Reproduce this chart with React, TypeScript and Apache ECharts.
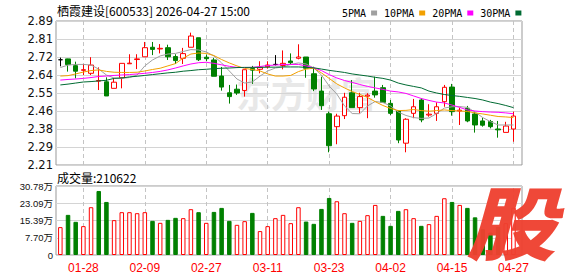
import React, { useEffect, useRef } from 'react';
import * as echarts from 'echarts';

const dates = ['01-23','01-26','01-27','01-28','01-29','01-30','02-02','02-03','02-04','02-05','02-06','02-09','02-10','02-11','02-12','02-13','02-24','02-25','02-26','02-27','03-02','03-03','03-04','03-05','03-06','03-09','03-10','03-11','03-12','03-13','03-16','03-17','03-18','03-19','03-20','03-23','03-24','03-25','03-26','03-27','03-30','03-31','04-01','04-02','04-03','04-07','04-08','04-09','04-10','04-13','04-14','04-15','04-16','04-17','04-20','04-21','04-22','04-23','04-24','04-27'];

const labelDates = ['01-28','02-09','02-27','03-11','03-23','04-02','04-15','04-27'];

const opens = [2.707,2.711,2.679,2.657,2.643,2.606,2.603,2.572,2.622,2.688,2.708,2.721,2.766,2.758,2.764,2.722,2.714,2.766,2.811,2.719,2.706,2.630,2.551,2.568,2.562,2.666,2.662,2.674,2.685,2.680,2.701,2.714,2.720,2.641,2.559,2.452,2.391,2.443,2.551,2.481,2.535,2.559,2.575,2.501,2.466,2.313,2.454,2.517,2.446,2.454,2.509,2.578,2.465,2.478,2.451,2.418,2.415,2.380,2.364,2.380];
const closes = [2.707,2.684,2.653,2.660,2.682,2.609,2.536,2.601,2.690,2.691,2.711,2.764,2.756,2.761,2.721,2.703,2.736,2.819,2.707,2.712,2.629,2.578,2.533,2.550,2.660,2.658,2.671,2.682,2.685,2.690,2.693,2.720,2.667,2.569,2.490,2.301,2.441,2.530,2.481,2.533,2.540,2.541,2.506,2.454,2.328,2.426,2.485,2.423,2.450,2.485,2.577,2.462,2.469,2.418,2.399,2.398,2.391,2.376,2.394,2.441];
const lows = [2.676,2.651,2.619,2.635,2.635,2.564,2.536,2.572,2.572,2.688,2.663,2.721,2.729,2.737,2.706,2.687,2.687,2.766,2.701,2.700,2.629,2.561,2.500,2.541,2.533,2.593,2.643,2.665,2.680,2.662,2.682,2.709,2.622,2.559,2.470,2.270,2.308,2.427,2.481,2.454,2.431,2.528,2.506,2.446,2.313,2.270,2.431,2.412,2.438,2.418,2.485,2.443,2.399,2.412,2.363,2.391,2.383,2.339,2.364,2.320];
const highs = [2.717,2.712,2.698,2.687,2.719,2.671,2.624,2.619,2.690,2.733,2.733,2.791,2.791,2.781,2.778,2.733,2.763,2.835,2.811,2.732,2.716,2.673,2.588,2.590,2.660,2.678,2.700,2.700,2.729,2.751,2.737,2.780,2.720,2.674,2.627,2.462,2.452,2.551,2.611,2.551,2.549,2.627,2.588,2.517,2.466,2.431,2.522,2.525,2.497,2.506,2.588,2.593,2.481,2.489,2.462,2.433,2.423,2.418,2.414,2.462];

const ma5 = [2.670,2.682,2.685,2.685,2.682,2.663,2.635,2.621,2.619,2.623,2.635,2.678,2.706,2.725,2.734,2.737,2.746,2.755,2.753,2.744,2.725,2.692,2.654,2.616,2.597,2.602,2.630,2.654,2.668,2.673,2.685,2.692,2.687,2.668,2.635,2.583,2.545,2.489,2.453,2.452,2.489,2.510,2.505,2.489,2.460,2.444,2.434,2.430,2.432,2.453,2.479,2.485,2.486,2.482,2.460,2.434,2.415,2.399,2.399,2.399];
const ma10 = [2.630,2.632,2.640,2.649,2.656,2.659,2.652,2.648,2.647,2.647,2.648,2.654,2.661,2.667,2.678,2.689,2.715,2.734,2.739,2.737,2.727,2.708,2.692,2.678,2.666,2.661,2.654,2.640,2.630,2.630,2.633,2.651,2.663,2.667,2.645,2.619,2.593,2.574,2.557,2.543,2.529,2.509,2.491,2.477,2.467,2.468,2.472,2.467,2.464,2.467,2.470,2.467,2.465,2.463,2.456,2.451,2.445,2.439,2.437,2.434];
const ma20 = [2.611,2.614,2.616,2.619,2.623,2.628,2.630,2.633,2.635,2.637,2.640,2.643,2.647,2.652,2.659,2.668,2.678,2.687,2.693,2.695,2.690,2.683,2.676,2.671,2.670,2.671,2.675,2.680,2.682,2.684,2.685,2.685,2.678,2.669,2.656,2.637,2.621,2.609,2.600,2.590,2.581,2.574,2.567,2.559,2.555,2.548,2.536,2.524,2.515,2.507,2.503,2.493,2.482,2.470,2.465,2.462,2.460,2.459,2.456,2.452];
const ma30 = [2.588,2.592,2.597,2.602,2.604,2.607,2.610,2.619,2.621,2.626,2.629,2.633,2.637,2.641,2.645,2.648,2.653,2.656,2.660,2.662,2.665,2.667,2.668,2.670,2.671,2.671,2.671,2.672,2.672,2.673,2.673,2.673,2.671,2.669,2.663,2.657,2.652,2.647,2.640,2.635,2.630,2.624,2.619,2.611,2.597,2.588,2.581,2.574,2.559,2.550,2.543,2.538,2.534,2.529,2.524,2.517,2.507,2.500,2.491,2.481];

const volumes = [124400,179000,148000,128800,213200,285600,236700,155500,191000,191000,186500,191000,152300,143500,156800,165700,164300,204300,191000,143500,192300,210100,152300,134600,151000,187900,106600,128800,164300,179000,142100,213200,149200,139000,205600,254500,239800,186500,143500,152300,177700,223400,174600,130100,196800,204300,164300,130100,137700,174600,253200,236700,223400,210100,168000,115000,100000,125000,142000,210622];

const priceTicks = ['2.21','2.29','2.38','2.46','2.55','2.64','2.72','2.81','2.89'];
const volumeTicks = ['0','7.70万','15.39万','23.09万','30.78万'];
const legendNames = ['5PMA','10PMA','20PMA','30PMA'];

const title = '栖霞建设[600533] 2026-04-27 15:00';
const volumeTitle = '成交量:210622';

const RED = '#ff0000';
const GREEN = '#008000';

export default function App() {
  const ref = useRef<HTMLDivElement>(null);
  useEffect(() => {
    document.body.style.margin = '0';
    const chart = echarts.init(ref.current!, undefined, { renderer: 'svg' });

    const P_MIN = 2.21, P_MAX = 2.89, P_INT = 0.085;
    const V_MAX = 307800, V_INT = 76950;

    const frameTop = 21, frameH = 144;
    const volTop = 186, volH = 69;
    const frameLeft = 56, frameW = 466;
    const dataLeft = 56.5, dataW = 460.8;

    const candleData = dates.map((_, i) => [opens[i], closes[i], lows[i], highs[i]]);
    const volData = volumes.map((v, i) => {
      const up = i === 0 ? true : closes[i] >= closes[i - 1];
      return {
        value: v,
        itemStyle: up
          ? { color: '#ffffff', borderColor: RED, borderWidth: 1 }
          : { color: GREEN, borderColor: GREEN, borderWidth: 1 },
      };
    });

    const vMark = {
      silent: true,
      z: 1,
      symbol: ['none', 'none'],
      label: { show: false },
      lineStyle: { color: '#c4c4c4', type: [4, 3], width: 1 },
      emphasis: { disabled: true },
      data: labelDates.map((d) => ({ xAxis: d })),
    };

    const labelSet = new Set(labelDates);
    const lineColors = ['#a0a0a0', '#f2a000', '#ff00ff', '#006b33'];
    const maArrays = [ma5, ma10, ma20, ma30];

    const option: any = {
      animation: false,
      backgroundColor: '#ffffff',
      legend: {
        data: legendNames,
        left: 337,
        top: 3,
        align: 'right',
        icon: 'rect',
        itemWidth: 6,
        itemHeight: 5,
        itemGap: 7,
        selectedMode: false,
        textStyle: { fontFamily: 'DejaVu Sans Mono', fontSize: 10, color: '#000' },
      },
      grid: [
        { left: frameLeft, top: frameTop, width: frameW, height: frameH, show: true, borderColor: '#999', borderWidth: 1, backgroundColor: 'transparent' },
        { left: dataLeft, top: frameTop, width: dataW, height: frameH },
        { left: frameLeft, top: volTop, width: frameW, height: volH, show: true, borderColor: '#999', borderWidth: 1, backgroundColor: 'transparent' },
        { left: dataLeft, top: volTop, width: dataW, height: volH },
      ],
      xAxis: [
        { type: 'value', gridIndex: 0, show: false, min: 0, max: 1 },
        { type: 'category', gridIndex: 1, data: dates, show: false, boundaryGap: true },
        { type: 'value', gridIndex: 2, show: false, min: 0, max: 1 },
        {
          type: 'category', gridIndex: 3, data: dates, boundaryGap: true,
          axisLine: { show: false }, axisTick: { show: false }, splitLine: { show: false },
          axisLabel: {
            interval: (_idx: number, val: string) => labelSet.has(val),
            color: RED, fontSize: 12, fontFamily: 'Liberation Sans', margin: 7,
          },
        },
      ],
      yAxis: [
        {
          type: 'value', gridIndex: 0, min: P_MIN, max: P_MAX, interval: P_INT,
          axisLine: { show: false }, axisTick: { show: false },
          splitLine: { show: true, lineStyle: { color: '#d4d4d4', width: 1 } },
          axisLabel: {
            margin: 3, color: '#111', fontSize: 11.5, fontFamily: 'DejaVu Sans',
            formatter: (v: number) => priceTicks[Math.round((v - P_MIN) / P_INT)] ?? '',
          },
        },
        { type: 'value', gridIndex: 1, min: P_MIN, max: P_MAX, show: false },
        {
          type: 'value', gridIndex: 2, min: 0, max: V_MAX, interval: V_INT,
          axisLine: { show: false }, axisTick: { show: false },
          splitLine: { show: true, lineStyle: { color: '#d4d4d4', width: 1 } },
          axisLabel: {
            margin: 3, color: '#111', fontSize: 9.5, fontFamily: "'Liberation Sans', 'Noto Sans CJK SC'",
            formatter: (v: number) => volumeTicks[Math.round(v / V_INT)] ?? '',
          },
        },
        { type: 'value', gridIndex: 3, min: 0, max: V_MAX, show: false },
      ],
      series: [
        {
          type: 'candlestick',
          name: 'K',
          xAxisIndex: 1,
          yAxisIndex: 1,
          data: candleData,
          barWidth: 5,
          itemStyle: {
            color: '#ffffff',
            color0: GREEN,
            borderColor: RED,
            borderColor0: GREEN,
            borderColorDoji: '#000000',
            borderWidth: 1,
          },
          markLine: vMark,
        },
        ...maArrays.map((arr, k) => ({
          type: 'line',
          name: legendNames[k],
          xAxisIndex: 1,
          yAxisIndex: 1,
          data: arr,
          symbol: 'none',
          showSymbol: false,
          z: 3,
          itemStyle: { color: lineColors[k] },
          lineStyle: { color: lineColors[k], width: 1 },
        })),
        {
          type: 'bar',
          name: 'VOL',
          xAxisIndex: 3,
          yAxisIndex: 3,
          data: volData,
          barWidth: 4.5,
          markLine: vMark,
        },
      ],
      graphic: [
        {
          type: 'text', x: 236, y: 92, z: 0, silent: true,
          style: {
            text: '东方财富', fontSize: 35, fontWeight: 'bold', fontFamily: 'Noto Sans CJK SC',
            fill: '#e8e8e8', align: 'left', verticalAlign: 'middle', textAlign: 'left', textVerticalAlign: 'middle',
          },
        },
        {
          type: 'text', x: 57, y: 10, silent: true,
          style: {
            text: title, fontSize: 12, fontFamily: 'Noto Sans CJK SC', fill: '#000',
            align: 'left', verticalAlign: 'middle', textAlign: 'left', textVerticalAlign: 'middle',
          },
        },
        {
          type: 'text', x: 57, y: 177, silent: true,
          style: {
            text: volumeTitle, fontSize: 12, fontFamily: 'Noto Sans CJK SC', fill: '#000',
            align: 'left', verticalAlign: 'middle', textAlign: 'left', textVerticalAlign: 'middle',
          },
        },
        {
          type: 'text', x: 511, y: 219, z: 100, scaleX: 1.12, silent: true,
          style: {
            text: '股', fontSize: 80, fontWeight: 900, fontStyle: 'italic', fontFamily: 'Noto Sans CJK SC',
            fill: '#ee4130', opacity: 0.96,
            align: 'center', verticalAlign: 'middle', textAlign: 'center', textVerticalAlign: 'middle',
          },
        },
      ],
    };

    chart.setOption(option);
    return () => chart.dispose();
  }, []);

  return (
    <div
      ref={ref}
      style={{ width: 578, height: 276, position: 'absolute', left: 0, top: 0, background: '#fff' }}
    />
  );
}
